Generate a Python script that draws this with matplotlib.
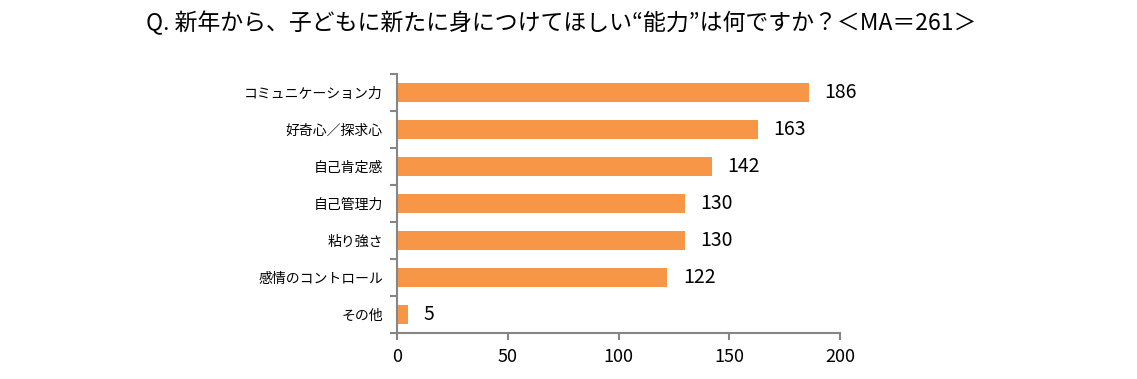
import matplotlib
matplotlib.use("Agg")
import matplotlib.pyplot as plt
import numpy as np

plt.rcParams['font.family'] = ['Noto Sans CJK JP', 'DejaVu Sans']

categories = ["コミュニケーション力", "好奇心／探求心", "自己肯定感", "自己管理力",
              "粘り強さ", "感情のコントロール", "その他"]
values = [186, 163, 142, 130, 130, 122, 5]
xticks = [0, 50, 100, 150, 200]
title = "Q. 新年から、子どもに新たに身につけてほしい“能力”は何ですか？＜MA＝261＞"

bar_color = "#F79646"
axis_color = "#868686"

fig = plt.figure(figsize=(11.37, 3.79), dpi=100)
ax = fig.add_axes([0.349, 0.121, 0.39, 0.684])

y = np.arange(len(categories))
ax.barh(y, values, height=0.5, color=bar_color)
ax.set_ylim(len(categories) - 0.5, -0.5)
ax.set_xlim(0, 200)

for yi, v in zip(y, values):
    ax.text(v + 7, yi, str(v), va="center", ha="left", fontsize=14)

ax.set_xticks(xticks)
ax.set_xticklabels([str(t) for t in xticks], fontsize=13)
ax.set_yticks(y)
ax.set_yticklabels(categories, fontsize=10)
ax.set_yticks(np.arange(len(categories) + 1) - 0.5, minor=True)
ax.tick_params(axis="y", which="major", length=0, pad=10)
ax.tick_params(axis="y", which="minor", length=5, width=1.5, color=axis_color)
ax.tick_params(axis="x", length=5, width=1.5, color=axis_color, pad=6)

for s in ["top", "right"]:
    ax.spines[s].set_visible(False)
for s in ["left", "bottom"]:
    ax.spines[s].set_color(axis_color)
    ax.spines[s].set_linewidth(1.5)

fig.text(0.494, 0.94, title, ha="center", va="center", fontsize=16.5)

fig.savefig("out.png", dpi=100)
